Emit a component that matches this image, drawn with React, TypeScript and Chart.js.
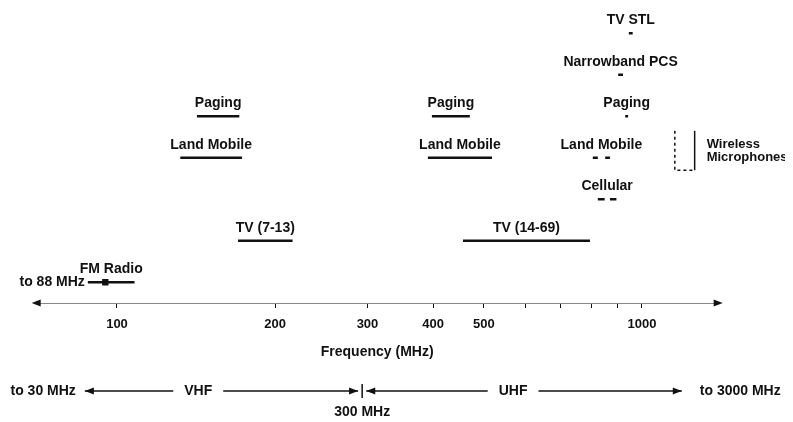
import React, { useEffect, useRef } from "react";
import { Chart, registerables } from "chart.js";

Chart.register(...registerables);

const FONT = "'Liberation Sans', Arial, sans-serif";
const INK = "#111";

// Frequency bands (MHz), the row each sits on, and its segments
const bandNames = [
  "FM Radio",
  "TV (7-13)",
  "Land Mobile",
  "Paging",
  "Land Mobile",
  "Paging",
  "TV (14-69)",
  "Land Mobile",
  "Cellular",
  "Paging",
  "Narrowband PCS",
  "TV STL",
];
const bandRows = [1, 2, 4, 5, 4, 5, 2, 4, 3, 5, 6, 7];
const bandSegments: number[][][] = [
  [[88, 108]],
  [[170, 216]],
  [[132, 173]],
  [[142, 171]],
  [[391, 518]],
  [[398, 470]],
  [[456, 796]],
  [[806, 824], [851, 869]],
  [[824, 849], [869, 894]],
  [[929, 941]],
  [[901, 920]],
  [[944, 960]],
];

// Main frequency axis (log scale, MHz)
const axisMin = 70;
const axisMax = 1400;
const tickValues = [100, 200, 300, 400, 500, 600, 700, 800, 900, 1000];
const tickLabels = ["100", "200", "300", "400", "500", "", "", "", "", "1000"];
const axisTitle = "Frequency (MHz)";

// FM marker and lower-end note
const fmMarkerX = [95];
const fmMarkerRow = [1];
const lowEndLabel = "to 88 MHz";
const lowEndValue = 88;

// Wireless microphones bracket
const micBoxX = [1155, 1260];
const micBoxRows = [3.7, 4.65];
const micLabel = ["Wireless", "Microphones"];

// Bottom VHF / UHF schematic (positions on a 0-100 schematic scale)
const schematicRow = -1.62;
const vhfRange = [7.2, 47.2];
const uhfRange = [48.4, 94.6];
const splitPos = 47.8;
const schematicNames = ["VHF", "UHF"];
const schematicNamePos = [23.8, 69.9];
const endLabels = ["to 30 MHz", "to 3000 MHz"];
const splitLabel = "300 MHz";

const W = 777;
const H = 414;

function arrowHead(ctx: CanvasRenderingContext2D, tipX: number, y: number, dir: number, len = 9, half = 3.5) {
  ctx.beginPath();
  ctx.moveTo(tipX, y);
  ctx.lineTo(tipX - dir * len, y - half);
  ctx.lineTo(tipX - dir * len, y + half);
  ctx.closePath();
  ctx.fill();
}

const annotate = {
  id: "annotate",
  afterDatasetsDraw(chart: any) {
    const { ctx, chartArea } = chart;
    const x = chart.scales.x;
    const x2 = chart.scales.x2;
    const y = chart.scales.y;
    ctx.save();
    ctx.fillStyle = INK;
    ctx.strokeStyle = INK;
    ctx.font = `bold 14px ${FONT}`;
    ctx.textAlign = "center";
    ctx.textBaseline = "middle";

    bandNames.forEach((name, i) => {
      const segs = bandSegments[i];
      const a = x.getPixelForValue(segs[0][0]);
      const b = x.getPixelForValue(segs[segs.length - 1][1]);
      ctx.fillText(name, (a + b) / 2, y.getPixelForValue(bandRows[i]) - 13);
    });

    ctx.textAlign = "right";
    ctx.fillText(lowEndLabel, x.getPixelForValue(lowEndValue) - 3, y.getPixelForValue(fmMarkerRow[0]));

    // axis arrow heads
    const ay = chartArea.bottom;
    arrowHead(ctx, chartArea.left - 4, ay, -1);
    arrowHead(ctx, chartArea.right + 4, ay, 1);

    // wireless microphones text
    ctx.font = `bold 13px ${FONT}`;
    ctx.textAlign = "left";
    const my = (y.getPixelForValue(micBoxRows[0]) + y.getPixelForValue(micBoxRows[1])) / 2;
    const mx = x.getPixelForValue(micBoxX[1]) + 12;
    ctx.fillText(micLabel[0], mx, my - 6.5);
    ctx.fillText(micLabel[1], mx, my + 6.5);

    // schematic
    ctx.font = `bold 14px ${FONT}`;
    const sy = y.getPixelForValue(schematicRow);
    schematicNames.forEach((n, i) => {
      const cx = x2.getPixelForValue(schematicNamePos[i]);
      const w = ctx.measureText(n).width;
      ctx.fillStyle = "#fff";
      ctx.fillRect(cx - w / 2 - 11, sy - 8, w + 22, 16);
      ctx.fillStyle = INK;
      ctx.textAlign = "center";
      ctx.fillText(n, cx, sy);
    });
    arrowHead(ctx, x2.getPixelForValue(vhfRange[0]), sy, -1);
    arrowHead(ctx, x2.getPixelForValue(vhfRange[1]), sy, 1);
    arrowHead(ctx, x2.getPixelForValue(uhfRange[0]), sy, -1);
    arrowHead(ctx, x2.getPixelForValue(uhfRange[1]), sy, 1);
    ctx.textAlign = "right";
    ctx.fillText(endLabels[0], x2.getPixelForValue(vhfRange[0]) - 9, sy);
    ctx.textAlign = "left";
    ctx.fillText(endLabels[1], x2.getPixelForValue(uhfRange[1]) + 18, sy);
    ctx.textAlign = "center";
    ctx.fillText(splitLabel, x2.getPixelForValue(splitPos), sy + 21);
    ctx.restore();
  },
};

function seg(data: { x: number; y: number }[], extra: any = {}) {
  return {
    data,
    showLine: true,
    borderColor: INK,
    backgroundColor: INK,
    borderWidth: 2.5,
    pointRadius: 0,
    borderCapStyle: "butt",
    clip: false,
    ...extra,
  };
}

export default function App() {
  const ref = useRef<HTMLCanvasElement | null>(null);
  useEffect(() => {
    if (!ref.current) return;
    const datasets: any[] = [];
    bandSegments.forEach((segs, i) => {
      segs.forEach((s) => {
        datasets.push(seg([{ x: s[0], y: bandRows[i] }, { x: s[1], y: bandRows[i] }]));
      });
    });
    datasets.push({
      data: fmMarkerX.map((v, i) => ({ x: v, y: fmMarkerRow[i] })),
      pointStyle: "rect",
      pointRadius: 4.5,
      backgroundColor: INK,
      borderWidth: 0,
      showLine: false,
    });
    datasets.push(
      seg(
        [
          { x: micBoxX[0], y: micBoxRows[1] },
          { x: micBoxX[0], y: micBoxRows[0] },
          { x: micBoxX[1], y: micBoxRows[0] },
        ],
        { borderWidth: 1.5, borderDash: [3, 3] }
      )
    );
    datasets.push(
      seg(
        [
          { x: micBoxX[1], y: micBoxRows[0] },
          { x: micBoxX[1], y: micBoxRows[1] },
        ],
        { borderWidth: 1.5 }
      )
    );
    datasets.push(
      seg(
        [
          { x: vhfRange[0], y: schematicRow },
          { x: vhfRange[1], y: schematicRow },
        ],
        { xAxisID: "x2", borderWidth: 1.5 }
      )
    );
    datasets.push(
      seg(
        [
          { x: uhfRange[0], y: schematicRow },
          { x: uhfRange[1], y: schematicRow },
        ],
        { xAxisID: "x2", borderWidth: 1.5 }
      )
    );
    datasets.push(
      seg(
        [
          { x: splitPos, y: schematicRow + 0.17 },
          { x: splitPos, y: schematicRow - 0.17 },
        ],
        { xAxisID: "x2", borderWidth: 1.5 }
      )
    );

    const chart = new Chart(ref.current, {
      type: "scatter",
      data: { datasets },
      options: {
        responsive: false,
        animation: false,
        events: [],
        layout: { padding: { left: 27.68, right: 66.32, top: 1, bottom: 0 } },
        plugins: { legend: { display: false }, tooltip: { enabled: false } },
        scales: {
          x: {
            type: "logarithmic",
            min: axisMin,
            max: axisMax,
            afterBuildTicks: (scale: any) => {
              scale.ticks = tickValues.map((v) => ({ value: v }));
            },
            afterFit: (scale: any) => {
              scale.height = H - 295;
            },
            ticks: {
              autoSkip: false,
              maxRotation: 0,
              padding: 9,
              color: INK,
              font: { family: FONT, size: 13, weight: "bold" },
              callback: (value: any) => {
                const i = tickValues.indexOf(Number(value));
                return i >= 0 ? tickLabels[i] : "";
              },
            },
            grid: { drawOnChartArea: false, drawTicks: true, tickLength: 5, color: INK, lineWidth: 1 },
            border: { display: true, color: "#888", width: 1 },
            title: {
              display: true,
              text: axisTitle,
              color: INK,
              font: { family: FONT, size: 14, weight: "bold" },
              padding: { top: 0, bottom: H - 344 - 8.4 },
            },
          },
          x2: { type: "linear", min: 0, max: 100, display: false },
          y: { type: "linear", min: 0.5, max: 7.5, display: false },
        },
      } as any,
      plugins: [annotate],
    });
    return () => chart.destroy();
  }, []);

  return (
    <div style={{ width: W, height: H }}>
      <canvas ref={ref} width={W} height={H} style={{ display: "block" }} />
    </div>
  );
}
